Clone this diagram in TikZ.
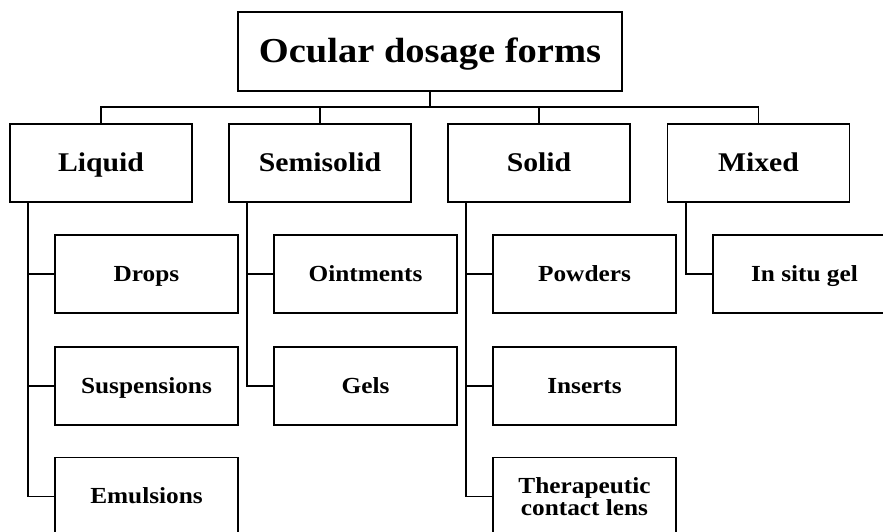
\documentclass[tikz,border=0pt]{standalone}
\usepackage{fontspec}
\newfontfamily\boxfont[FakeStretch=1.1]{Liberation Serif}
\usetikzlibrary{positioning}
\begin{document}
\begin{tikzpicture}[x=1pt,y=-1pt,line width=1.9pt,
    topbox/.style={draw,minimum width=384pt,minimum height=79pt,inner sep=0pt,text height=26pt,text depth=3.6pt,font=\boxfont\bfseries\fontsize{35}{38}\selectfont},
    catbox/.style={draw,minimum width=182pt,minimum height=78pt,inner sep=0pt,text height=20pt,text depth=2.6pt,font=\boxfont\bfseries\fontsize{27}{30}\selectfont},
    formbox/.style={draw,minimum width=183pt,minimum height=78pt,inner sep=0pt,align=center,text height=16pt,text depth=2pt,font=\boxfont\bfseries\fontsize{23}{22}\selectfont}]
                \useasboundingbox (0,0) rectangle (883,531);
                \node[topbox] (ocular) at (430,51.5) {Ocular dosage forms};
                % categories
                \node[catbox] (liquid) at (101,163) {Liquid};
                \node[catbox] (semisolid) at (320,163) {Semisolid};
                \node[catbox] (solid) at (539,163) {Solid};
                \node[catbox] (mixed) at (758.5,163) {Mixed};
                % dosage forms
                \node[formbox] (drops) at (146.5,274) {Drops};
                \node[formbox] (suspensions) at (146.5,386) {Suspensions};
                \node[formbox] (emulsions) at (146.5,496.5) {Emulsions};
                \node[formbox] (ointments) at (365.5,274) {Ointments};
                \node[formbox] (gels) at (365.5,386) {Gels};
                \node[formbox] (powders) at (584.5,274) {Powders};
                \node[formbox] (inserts) at (584.5,386) {Inserts};
                \node[formbox,text height=39pt] (lens) at (584.5,496.5) {Therapeutic\\contact lens};
                \node[formbox] (insitu) at (804.5,274) {In situ gel};
                % tree lines
                \coordinate (bus) at (430,107);
                \draw (ocular.south) -- (bus);
                \draw (bus) -| (liquid.north);
                \draw (bus) -| (semisolid.north);
                \draw (bus) -| (solid.north);
                \draw (bus) -| (mixed.north);
                \draw ([xshift=18.5pt]liquid.south west) |- (drops.west);
                \draw ([xshift=18.5pt]liquid.south west) |- (suspensions.west);
                \draw ([xshift=18.5pt]liquid.south west) |- (emulsions.west);
                \draw ([xshift=19pt]semisolid.south west) |- (ointments.west);
                \draw ([xshift=19pt]semisolid.south west) |- (gels.west);
                \draw ([xshift=19pt]solid.south west) |- (powders.west);
                \draw ([xshift=19pt]solid.south west) |- (inserts.west);
                \draw ([xshift=19pt]solid.south west) |- (lens.west);
                \draw ([xshift=19pt]mixed.south west) |- (insitu.west);
            \end{tikzpicture}
\end{document}
